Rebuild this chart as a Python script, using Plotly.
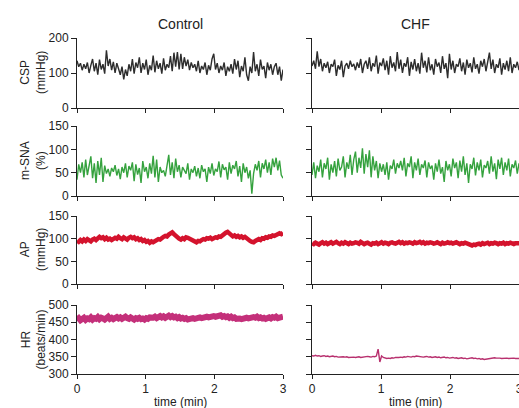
import numpy as np
import plotly.graph_objects as go
from plotly.subplots import make_subplots

# ---------------- data ----------------
csp_control = [
    135, 118, 128, 108, 125, 112, 130, 100, 122, 140,
    105, 128, 95, 138, 110, 125, 98, 165, 120, 140,
    108, 132, 100, 128, 112, 95, 118, 82, 110, 92,
    125, 105, 140, 98, 130, 115, 145, 100, 128, 110,
    138, 95, 122, 108, 150, 102, 135, 112, 128, 98,
    142, 108, 125, 115, 148, 105, 158, 118, 160, 110,
    155, 112, 145, 120, 138, 108, 130, 115, 125, 105,
    135, 100, 120, 110, 130, 95, 122, 108, 140, 155,
    110, 128, 100, 120, 108, 130, 92, 118, 105, 125,
    98, 140, 110, 135, 88, 120, 105, 145, 95, 78,
    118, 100, 160, 105, 125, 92, 138, 110, 120, 85,
    130, 108, 125, 95, 118, 128, 95, 118, 78, 110,
]
csp_chf = [
    120, 135, 112, 162, 118, 140, 105, 128, 115, 132,
    100, 125, 118, 138, 92, 122, 110, 135, 88, 120,
    128, 112, 135, 118, 126, 108, 130, 115, 140, 100,
    125, 135, 112, 145, 105, 128, 118, 150, 98, 130,
    120, 142, 108, 135, 95, 148, 115, 130, 105, 160,
    112, 138, 100, 128, 118, 145, 92, 132, 110, 140,
    105, 128, 98, 158, 115, 135, 102, 145, 108, 125,
    95, 140, 118, 130, 100, 148, 112, 128, 85, 155,
    110, 135, 100, 125, 118, 142, 105, 130, 95, 138,
    115, 128, 102, 145, 112, 125, 98, 135, 118, 140,
    105, 130, 158, 112, 138, 100, 125, 115, 142, 95,
    128, 110, 135, 105, 145, 100, 125, 115, 132, 108,
]
msna_control = [
    35, 68, 50, 72, 40, 78, 45, 62, 85, 38,
    70, 28, 75, 45, 82, 30, 65, 48, 58, 42,
    60, 52, 66, 44, 58, 36, 62, 50, 70, 40,
    64, 55, 72, 32, 68, 46, 60, 28, 75, 52,
    62, 38, 70, 48, 86, 40, 78, 30, 62, 50,
    55, 42, 68, 88, 45, 72, 38, 80, 52, 66,
    40, 62, 55, 48, 70, 35, 58, 50, 64, 42,
    60, 38, 66, 52, 58, 30, 62, 48, 70, 44,
    58, 52, 74, 40, 68, 56, 62, 35, 72, 48,
    66, 58, 75, 42, 64, 30, 70, 50, 62, 38,
    55, 5, 48, 68, 55, 75, 40, 70, 58, 78,
    50, 72, 45, 80, 62, 82, 55, 76, 45, 38,
]
msna_chf = [
    45, 72, 38, 65, 52, 78, 40, 70, 58, 82,
    35, 68, 50, 75, 42, 80, 55, 62, 85, 40,
    72, 58, 88, 45, 78, 95, 50, 82, 60, 102,
    48, 90, 62, 98, 40, 85, 55, 75, 38, 70,
    52, 68, 45, 72, 35, 65, 58, 78, 48, 70,
    60, 75, 55, 82, 42, 70, 62, 85, 38, 72,
    55, 80, 45, 68, 60, 76, 40, 72, 58, 65,
    35, 70, 52, 78, 48, 62, 30, 75, 55, 68,
    42, 80, 60, 72, 38, 76, 52, 85, 45, 70,
    28, 68, 58, 82, 44, 72, 55, 78, 40, 66,
    60, 75, 48, 85, 52, 70, 36, 78, 58, 82,
    45, 72, 55, 80, 42, 68, 60, 76, 48, 70,
]
ap_control = [
    96, 93, 97, 94, 98, 95, 99, 96, 94, 98, 100, 97, 101,
    104, 101, 103, 99, 102, 98, 100, 97,
    99, 102, 100, 104, 101, 99, 103, 100, 98, 102, 104, 101,
    103, 99, 101, 97, 99, 95, 97, 93, 95, 91, 94, 92,
    95, 97, 99, 98, 102, 104, 106, 105, 109, 111, 114,
    110, 106, 103, 100, 98, 101, 99, 103, 102, 100,
    97, 95, 93, 92, 95, 94, 97, 99, 98, 101,
    100, 102, 99, 101, 103, 102, 105, 104, 108, 110,
    113, 115, 111, 108, 105, 107, 104,
    106, 103, 105, 102, 104, 100, 98, 95, 93, 92, 95, 97,
    99, 97, 101, 100, 103, 102, 105, 104, 107, 106, 109, 110, 112, 110, 113,
]
ap_chf = [
    90, 88, 91, 89, 87, 90, 92, 89, 91, 88,
    90, 92, 89, 91, 93, 90, 88, 91, 89, 92,
    90, 88, 91, 89, 90, 92, 91, 89, 93, 90,
    88, 90, 91, 89, 87, 90, 89, 91, 88, 90,
    92, 89, 91, 90, 88, 91, 92, 90, 89, 91,
    93, 90, 92, 89, 91, 90, 92, 91, 89, 92,
    90, 91, 93, 90, 92, 89, 91, 90, 92, 91,
    89, 90, 92, 90, 88, 91, 89, 90, 92, 90,
    91, 89, 90, 92, 90, 88, 90, 89, 91, 90,
    88, 86, 85, 87, 86, 88, 89, 87, 90, 88,
    89, 91, 88, 90, 89, 91, 90, 88, 90, 89,
    91, 88, 90, 89, 91, 90, 88, 90, 89, 90,
]
hr_control = [
    458, 462, 456, 460, 463, 457, 461, 459, 464, 458,
    462, 460, 465, 459, 463, 461, 458, 462, 466, 460,
    463, 459, 462, 465, 461, 464, 460, 463, 466, 462,
    460, 464, 461, 458, 462, 460, 463, 459, 461, 458,
    462, 460, 464, 461, 463, 466, 462, 465, 468, 464,
    467, 463, 466, 469, 465, 468, 464, 466, 462, 465,
    461, 463, 460, 462, 458, 461, 459, 462, 460, 463,
    461, 464, 462, 465, 463, 466, 464, 467, 465, 468,
    466, 469, 467, 470, 466, 468, 465, 467, 463, 466,
    462, 464, 460, 463, 461, 459, 462, 460, 463, 461,
    464, 462, 465, 463, 466, 462, 464, 461, 463, 460,
    462, 464, 461, 465, 463, 466, 462, 465, 463, 466,
]
hr_chf = [
    353, 352, 354, 352, 353, 351, 352, 353, 351, 352,
    350, 351, 352, 350, 351, 349, 350, 351, 350, 349,
    350, 348, 349, 350, 349, 348, 349, 350, 348, 349,
    350, 349, 351, 350, 349, 351, 350, 352, 372, 335,
    352, 348, 346, 345, 346, 345, 347, 346, 348, 347,
    348, 349, 348, 350, 349, 351, 350, 349, 351, 350,
    352, 351, 350, 351, 349, 350, 351, 349, 350, 348,
    349, 350, 348, 349, 347, 348, 349, 347, 348, 346,
    347, 348, 346, 347, 345, 346, 347, 345, 346, 344,
    345, 346, 347, 345, 346, 344, 345, 343, 344, 342,
    343, 344, 345, 346, 345, 347, 346, 347, 346, 345,
    346, 347, 346, 345, 346, 347, 346, 345, 346, 345,
]
time_ticks = [0, 1, 2, 3]
row_labels = ["CSP<br>(mmHg)", "m-SNA<br>(%)", "AP<br>(mmHg)", "HR<br>(beats/min)"]
row_ranges = [[0, 200], [0, 150], [0, 150], [300, 500]]
row_ticks = [[0, 100, 200], [0, 50, 100, 150], [0, 50, 100, 150], [300, 350, 400, 450, 500]]
col_titles = ["Control", "CHF"]

# ---------------- figure ----------------
W, H = 519, 408
FONT = "Liberation Sans, Arial, sans-serif"

def t_axis(vals):
    return np.linspace(0, 3, len(vals))

series = [
    (csp_control, csp_chf, "#2d2d2d", "#2d2d2d", 1.4, 1.4),
    (msna_control, msna_chf, "#35a23e", "#35a23e", 1.4, 1.4),
    (ap_control, ap_chf, "#d4132d", "#d4132d", 4.5, 4.5),
    (hr_control, hr_chf, "#c4307a", "#b8306e", 6.0, 1.4),
]

fig = make_subplots(rows=4, cols=2)

x_dom = [[77 / W, 283 / W], [312 / W, 1.0]]
y_px = [(38, 108), (126, 196), (216, 284), (305, 374)]

for r, (left, right, c1, c2, w1, w2) in enumerate(series, start=1):
    fig.add_trace(go.Scatter(x=t_axis(left), y=left, mode="lines",
                             line=dict(color=c1, width=w1), showlegend=False), row=r, col=1)
    fig.add_trace(go.Scatter(x=t_axis(right), y=right, mode="lines",
                             line=dict(color=c2, width=w2), showlegend=False), row=r, col=2)

for r in range(1, 5):
    top, bot = y_px[r - 1]
    ydom = [1 - bot / H, 1 - top / H]
    for c in (1, 2):
        idx = (r - 1) * 2 + c
        xa = "xaxis" if idx == 1 else f"xaxis{idx}"
        ya = "yaxis" if idx == 1 else f"yaxis{idx}"
        fig.layout[xa].update(
            domain=x_dom[c - 1], range=[0, 3], tickvals=time_ticks,
            showticklabels=(r == 4), showline=True, linecolor="#222", linewidth=1,
            ticks="outside", ticklen=4, tickcolor="#222", showgrid=False, zeroline=False,
            automargin=False, ticklabeloverflow="allow",
            tickfont=dict(family=FONT, size=12, color="#222"),
        )
        fig.layout[ya].update(
            domain=ydom, range=row_ranges[r - 1], tickvals=row_ticks[r - 1],
            showticklabels=(c == 1), showline=True, linecolor="#222", linewidth=1,
            ticks="outside", ticklen=5, tickcolor="#222", showgrid=False, zeroline=False,
            automargin=False,
            tickfont=dict(family=FONT, size=12, color="#222"),
        )
    fig.add_annotation(text=row_labels[r - 1], x=33 / W, y=1 - (top + bot) / 2 / H,
                       xref="paper", yref="paper", textangle=-90, showarrow=False,
                       xanchor="center", yanchor="middle",
                       font=dict(family=FONT, size=12, color="#222"))

for c, title in enumerate(col_titles):
    cx = (x_dom[c][0] + x_dom[c][1]) / 2
    fig.add_annotation(text=title, x=cx, y=1 - 24 / H, xref="paper", yref="paper",
                       showarrow=False, xanchor="center", yanchor="middle",
                       font=dict(family=FONT, size=14, color="#222"))
    fig.add_annotation(text="time (min)", x=cx, y=1 - 402 / H, xref="paper", yref="paper",
                       showarrow=False, xanchor="center", yanchor="middle",
                       font=dict(family=FONT, size=12, color="#222"))

fig.update_layout(width=W, height=H, margin=dict(l=0, r=0, t=0, b=0, autoexpand=False),
                  paper_bgcolor="white", plot_bgcolor="white")

fig.write_html("out.html", config={"displayModeBar": False},
               post_script="document.body.style.margin='0';document.body.style.overflow='hidden';")
